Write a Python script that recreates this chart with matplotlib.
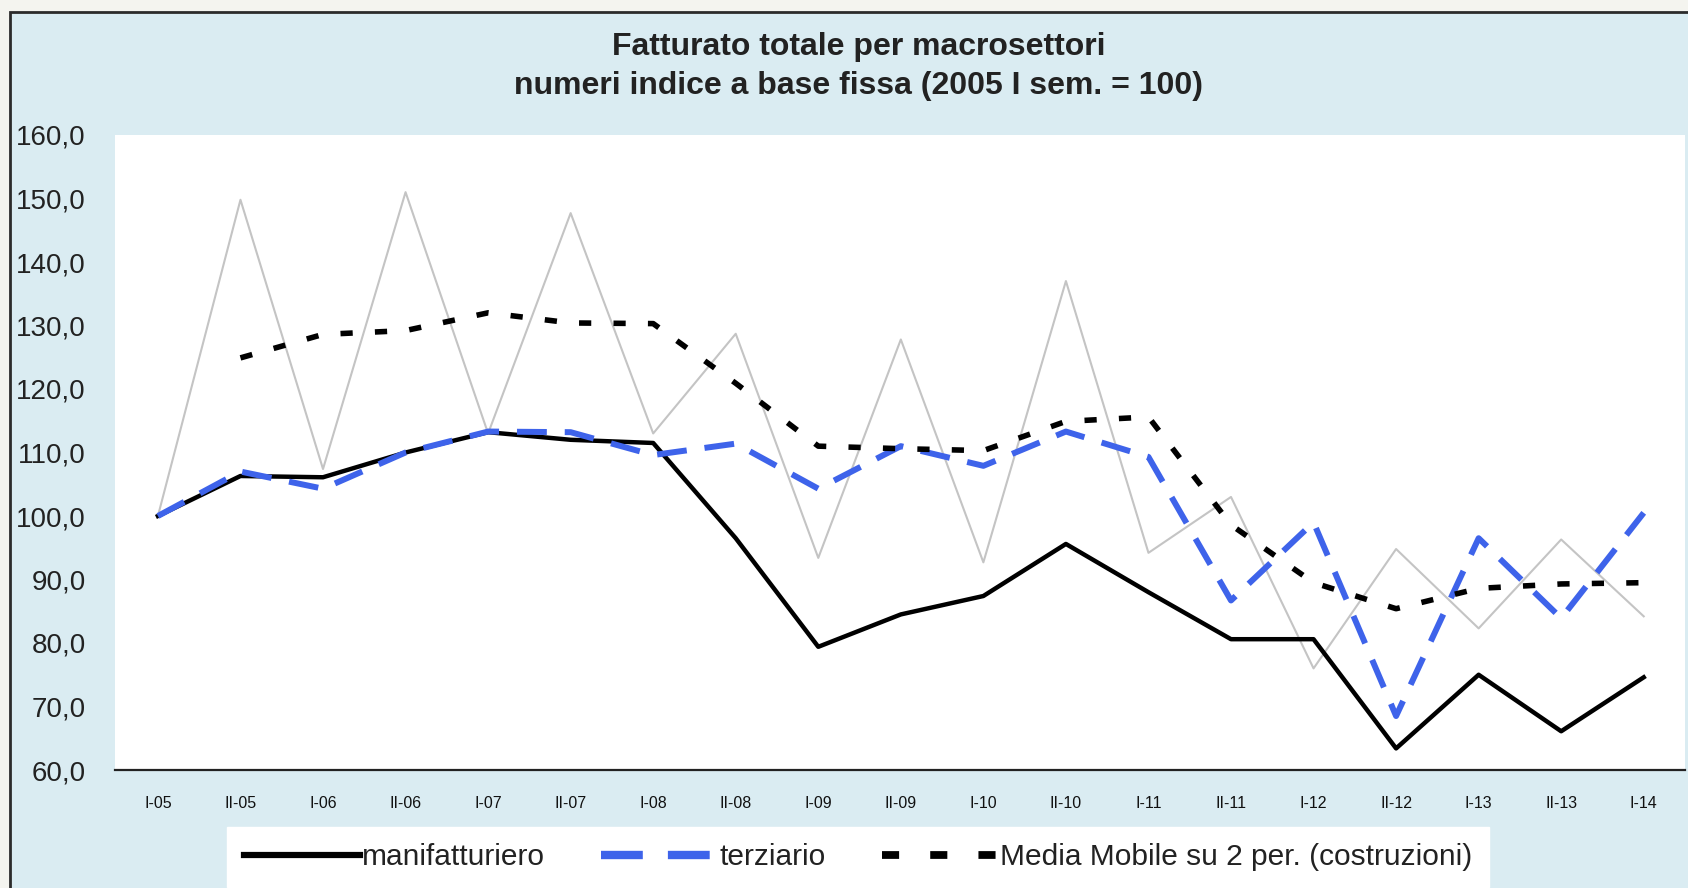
import matplotlib
matplotlib.use("Agg")
import matplotlib.pyplot as plt
from matplotlib.patches import Rectangle
import numpy as np

plt.rcParams['font.family'] = ['Liberation Sans', 'DejaVu Sans']

# semesters
periodi = ["I-05", "II-05", "I-06", "II-06", "I-07", "II-07", "I-08", "II-08", "I-09", "II-09",
           "I-10", "II-10", "I-11", "II-11", "I-12", "II-12", "I-13", "II-13", "I-14"]

manifatturiero = [100.0, 106.3, 106.1, 110.0, 113.2, 112.0, 111.5, 96.5, 79.4, 84.5,
                  87.4, 95.6, 88.0, 80.6, 80.6, 63.4, 75.0, 66.1, 74.6]

terziario = [100.0, 107.0, 104.3, 110.0, 113.3, 113.2, 109.6, 111.4, 104.3, 111.0,
             107.9, 113.3, 109.3, 86.7, 99.0, 68.5, 96.5, 83.9, 100.5]

costruzioni = [100.0, 149.8, 107.4, 151.0, 113.0, 147.7, 113.0, 128.7, 93.4, 127.8,
               92.7, 137.0, 94.2, 103.0, 76.0, 94.8, 82.3, 96.3, 84.2]

media_mobile = [np.nan, 124.9, 128.6, 129.2, 132.0, 130.4, 130.3, 120.9, 111.0, 110.6,
                110.3, 114.9, 115.6, 98.6, 89.5, 85.4, 88.6, 89.3, 89.5]

W, H = 1688, 888
fig = plt.figure(figsize=(W / 100, H / 100), dpi=100)
fig.patch.set_facecolor("#f4f4ef")

# chart frame (behind everything)
frame = Rectangle((10 / W, -0.02), 1.0, (H - 12) / H + 0.02, transform=fig.transFigure,
                  facecolor="#daecf2", edgecolor="#2b2b2b", lw=2.0, zorder=-10)
fig.patches.append(frame)

ax = fig.add_axes([115 / W, (H - 770) / H, (1685 - 115) / W, (770 - 135) / H])
ax.set_facecolor("white")

x = np.arange(len(periodi))
ax.plot(x, costruzioni, color="#c4c4c4", lw=1.5, label="_nolegend_", zorder=2)
ax.plot(x, manifatturiero, color="black", lw=3.2, label="manifatturiero", zorder=3)
ax.plot(x, terziario, color="#3e63ea", lw=4.3, dashes=(5, 3), label="terziario", zorder=4)
ax.plot(x, media_mobile, color="black", lw=4.0, dashes=(2.2, 4.0),
        label="Media Mobile su 2 per. (costruzioni)", zorder=5)

ax.set_xlim(-0.52, 18.5)
ax.set_ylim(60, 160)
ax.set_yticks(np.arange(60, 161, 10))
ax.set_yticklabels([f"{v:.1f}".replace(".", ",") for v in np.arange(60, 161, 10)],
                   fontsize=20, color="#222222")
ax.set_xticks(x)
ax.set_xticklabels(periodi, fontsize=11.5, color="#111111")
ax.tick_params(axis="both", length=0)
ax.tick_params(axis="y", pad=21)
ax.tick_params(axis="x", pad=19)

for s in ["top", "right", "left"]:
    ax.spines[s].set_visible(False)
ax.spines["bottom"].set_color("#222222")
ax.spines["bottom"].set_linewidth(1.6)

fig.text(859 / W, 1 - 47 / H, "Fatturato totale per macrosettori", ha="center", va="center",
         fontsize=23, fontweight="bold", color="#222222")
fig.text(859 / W, 1 - 86 / H, "numeri indice a base fissa (2005 I sem. = 100)", ha="center",
         va="center", fontsize=23, fontweight="bold", color="#222222")

leg = fig.legend(loc="center", bbox_to_anchor=(858 / W, 1 - 857 / H), ncol=3, fontsize=21.5,
                 frameon=True, fancybox=False, framealpha=1, handlelength=3.9,
                 handletextpad=0.05, columnspacing=1.9, borderpad=0.55)
leg.get_frame().set_facecolor("white")
leg.get_frame().set_edgecolor("white")
for t in leg.get_texts():
    t.set_color("#222222")
for h in leg.get_lines():
    h.set_linewidth(h.get_linewidth() * 1.4)

fig.savefig("out.png", dpi=100, facecolor=fig.get_facecolor())
